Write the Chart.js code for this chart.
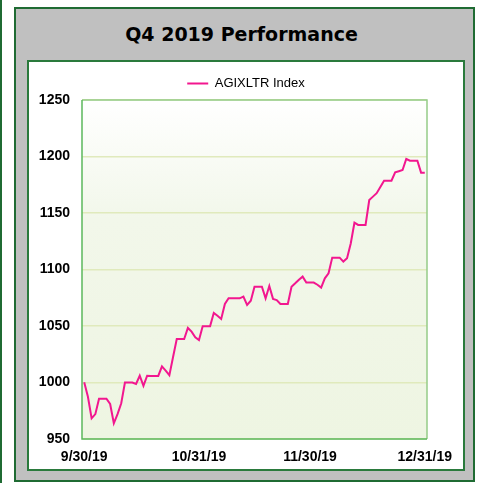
<!DOCTYPE html>
<html>
<head>
<meta charset="utf-8">
<script src="https://cdn.jsdelivr.net/npm/chart.js@4/dist/chart.umd.min.js"></script>
<style>
    body { margin: 0; width: 477px; height: 483px; overflow: hidden; background: #fff; position: relative; }
    #edge { position: absolute; left: 0; top: 0; width: 2px; height: 483px; background: #1f6b33; }
    #panel { position: absolute; left: 14px; top: 7px; width: 457px; height: 471px; background: #c0c0c0; border: 2px solid #1f6b33; }
    #title { position: absolute; left: 0; top: 22px; width: 483px; text-align: center; font: bold 19px/24px "DejaVu Sans", sans-serif; color: #000; }
    #inner { position: absolute; left: 27px; top: 60px; width: 434px; height: 407px; background: #fff; border: 2px solid #2a7a3c; }
    #chartBox { position: absolute; left: 0; top: 0; width: 434px; height: 407px; }
</style>
</head>
<body>
<div id="edge"></div>
<div id="panel"></div>
<div id="title">Q4 2019 Performance</div>
<div id="inner">
    <div id="chartBox"><canvas id="perf-chart" width="434" height="407"></canvas></div>
</div>
<script>
// daily values (weekends / holidays carried forward), day 0 = 9/30/19
var seriesName = 'AGIXLTR Index';
var indexValues = [
    1000.2, 987.4, 968.3, 972.0, 985.7, 985.7, 985.7,
    981.0, 963.9, 972.0, 981.6, 1000.0, 1000.0, 1000.0,
    998.7, 1006.0, 997.0, 1006.0, 1005.8, 1005.8, 1005.8,
    1014.3, 1010.5, 1006.5, 1022.5, 1038.5, 1038.5, 1038.5,
    1048.3, 1045.0, 1040.0, 1037.6, 1049.7, 1049.7, 1049.7,
    1061.5, 1059.0, 1056.2, 1069.5, 1074.5, 1074.5, 1074.5,
    1074.5, 1076.0, 1068.6, 1072.4, 1084.8, 1084.8, 1084.8,
    1074.5, 1085.4, 1074.0, 1073.0, 1069.5, 1069.5, 1069.5,
    1084.8, 1087.8, 1091.0, 1093.7, 1088.4, 1088.4, 1088.4,
    1086.5, 1084.0, 1092.2, 1096.6, 1110.5, 1110.5, 1110.5,
    1107.0, 1110.0, 1123.0, 1141.4, 1139.4, 1139.4, 1139.4,
    1161.5, 1164.5, 1167.5, 1173.0, 1178.6, 1178.6, 1178.6,
    1186.0, 1187.0, 1188.0, 1197.8, 1196.3, 1196.3, 1196.3,
    1185.7, 1185.7
];
var tickDays = [0, 31, 61, 92];
var tickLabels = ['9/30/19', '10/31/19', '11/30/19', '12/31/19'];
var yTicks = [950, 1000, 1050, 1100, 1150, 1200, 1250];

var points = [];
indexValues.forEach(function (v, i) {
    points.push({ x: i, y: v });
});

var plotFrame = {
    id: 'plotFrame',
    afterLayout: function (chart) {
        // centre the legend on the whole panel, not only the padded part
        if (chart.legend) {
            chart.legend.left = 0;
            chart.legend.right = chart.width;
        }
    },
    beforeDraw: function (chart) {
        var ctx = chart.ctx, a = chart.chartArea;
        var g = ctx.createLinearGradient(0, a.top, 0, a.bottom);
        g.addColorStop(0, '#ffffff');
        g.addColorStop(0.35, '#f2f7ea');
        g.addColorStop(1, '#eef5e2');
        ctx.save();
        ctx.fillStyle = g;
        ctx.fillRect(a.left, a.top, a.right - a.left, a.bottom - a.top);
        ctx.restore();
    },
    beforeDatasetsDraw: function (chart) {
        var ctx = chart.ctx, a = chart.chartArea;
        ctx.save();
        ctx.lineWidth = 1.5;
        ctx.strokeStyle = '#95cc88';
        ctx.beginPath();
        ctx.moveTo(a.left, a.top); ctx.lineTo(a.right, a.top); ctx.lineTo(a.right, a.bottom);
        ctx.stroke();
        ctx.strokeStyle = '#5cb85c';
        ctx.beginPath();
        ctx.moveTo(a.left, a.top); ctx.lineTo(a.left, a.bottom); ctx.lineTo(a.right, a.bottom);
        ctx.stroke();
        ctx.restore();
    }
};

var ctx = document.getElementById('perf-chart').getContext('2d');
var perfChart = new Chart(ctx, {
    type: 'line',
    data: {
        datasets: [
        {
            label: seriesName,
            data: points,
            borderColor: '#f2178f',
            backgroundColor: '#f2178f',
            borderWidth: 2,
            pointRadius: 0,
            tension: 0,
            fill: false
        }
        ]
    },
    options: {
        responsive: false,
        animation: false,
        layout: { padding: { left: 0, right: 36, top: 1, bottom: 0 } },
        plugins: {
            tooltip: { enabled: false },
            legend: {
                position: 'top',
                labels: {
                    usePointStyle: true,
                    pointStyle: 'line',
                    pointStyleWidth: 21,
                    padding: 14,
                    color: '#000',
                    font: { family: '"Liberation Sans", Arial, sans-serif', size: 13 }
                }
            }
        },
        scales: {
            x: {
                type: 'linear',
                min: -0.6,
                max: 92.6,
                grid: { display: false, drawTicks: false },
                border: { display: false },
                afterBuildTicks: function (scale) {
                    scale.ticks = tickDays.map(function (d) { return { value: d }; });
                },
                afterFit: function (scale) { scale.height = 30; },
                ticks: {
                    autoSkip: false,
                    maxRotation: 0,
                    padding: 10,
                    color: '#000',
                    font: { family: '"Liberation Sans", Arial, sans-serif', size: 14, weight: 'bold' },
                    callback: function (value) {
                        var i = tickDays.indexOf(value);
                        return i >= 0 ? tickLabels[i] : '';
                    }
                }
            },
            y: {
                min: yTicks[0],
                max: yTicks[yTicks.length - 1],
                grid: { color: '#e0eabc', lineWidth: 1.5, drawTicks: false },
                border: { display: false },
                afterFit: function (scale) { scale.width = 53; },
                afterBuildTicks: function (scale) {
                    scale.ticks = yTicks.map(function (v) { return { value: v }; });
                },
                ticks: {
                    padding: 12,
                    color: '#000',
                    font: { family: '"Liberation Sans", Arial, sans-serif', size: 14, weight: 'bold' },
                    callback: function (value) { return String(value); }
                }
            }
        }
    },
    plugins: [plotFrame]
});
</script>
</body>
</html>
